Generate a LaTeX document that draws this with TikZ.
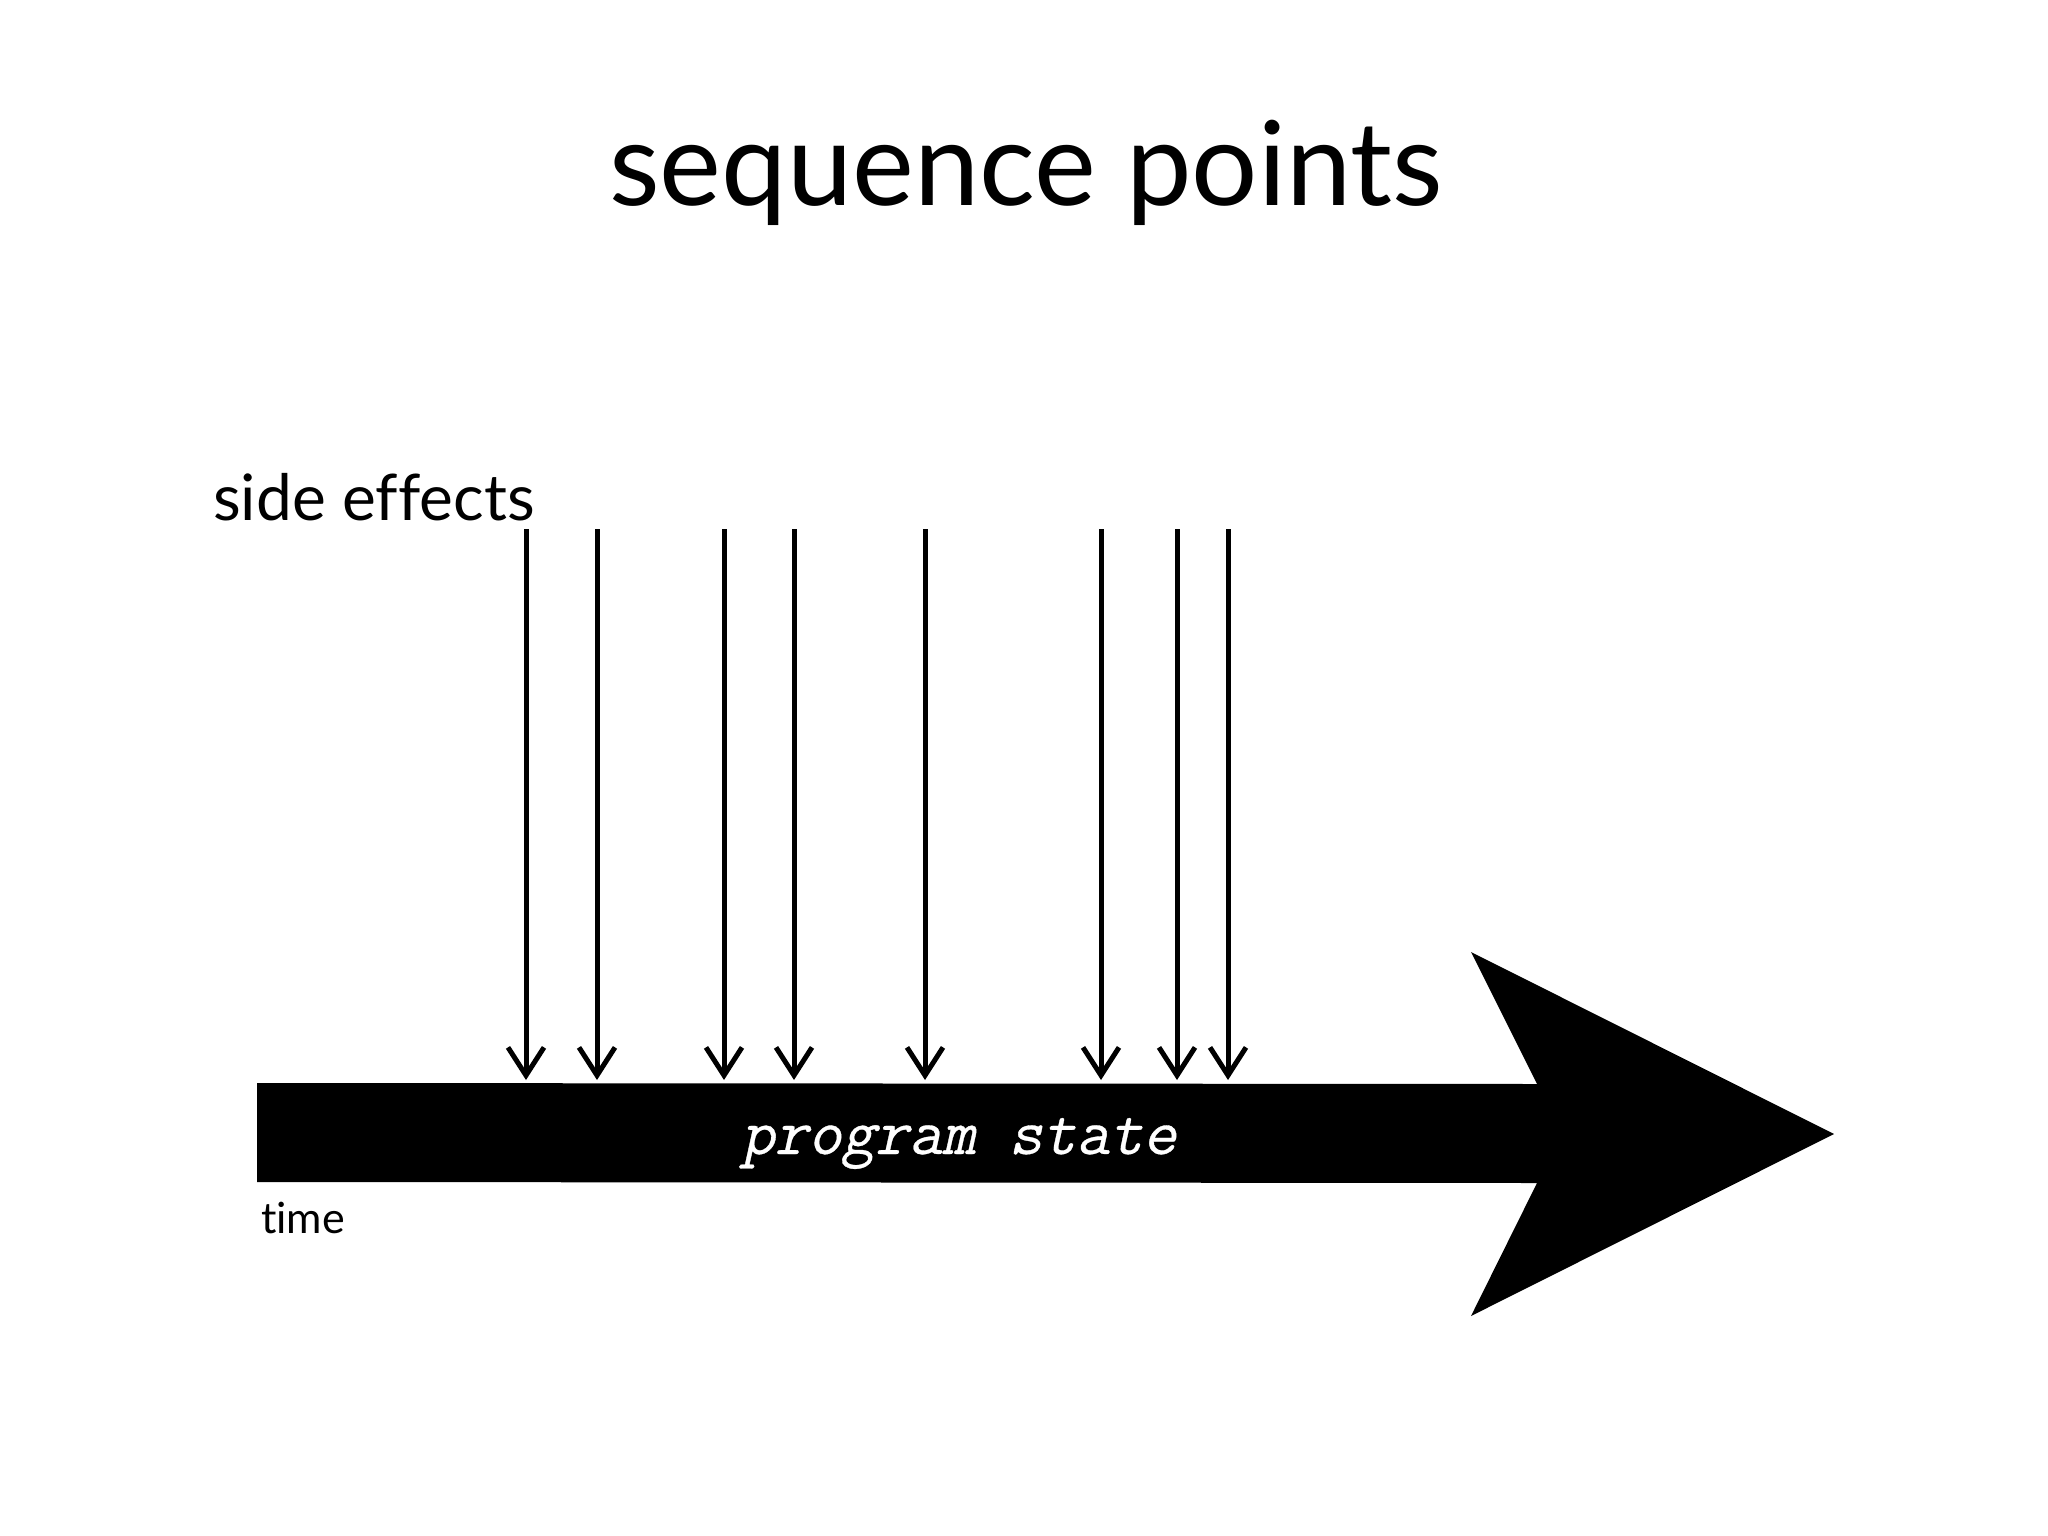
\documentclass[tikz,border=0pt]{standalone}
\usepackage{fontspec}
\setmainfont{Lato}[Ligatures={NoCommon,NoContextual}]
\newfontfamily\statefont{Latin Modern Mono}[FakeSlant=0.22,FakeBold=0.5]
\usetikzlibrary{arrows.meta}
\begin{document}
\begin{tikzpicture}[x=1pt,y=-1pt,
  effect/.style={line width=5pt,-{Straight Barb[length=28pt,width=36pt,line width=5pt]}},
  lbl/.style={inner sep=0pt,anchor=base west}]
\useasboundingbox (0,0) rectangle (2048,1536);
\fill[white] (0,0) rectangle (2048,1536);
% big time arrow
\fill[black] (257,1083) -- (1537,1084) -- (1471,952) -- (1834,1134) -- (1471,1316) -- (1537,1183) -- (257,1182) -- cycle;
\node[lbl,font=\fontsize{117}{117}\selectfont] (title) at (609,205) {sequence points};
\node[lbl,font=\fontsize{64}{64}\selectfont] (side) at (213,520) {side effects};
\node[lbl,font=\fontsize{43}{43}\selectfont] (time) at (261,1233) {time};
\node[lbl,text=white,font=\fontsize{65}{65}\selectfont\statefont] (state) at (741,1154) {program state};
\foreach \x [count=\i] in {526,597,724,794,925,1101,1177,1228}{
  \coordinate (s\i) at (\x,529);
  \coordinate (e\i) at (\x,1080);
  \draw[effect] (s\i) -- (e\i);
}
\end{tikzpicture}
\end{document}
